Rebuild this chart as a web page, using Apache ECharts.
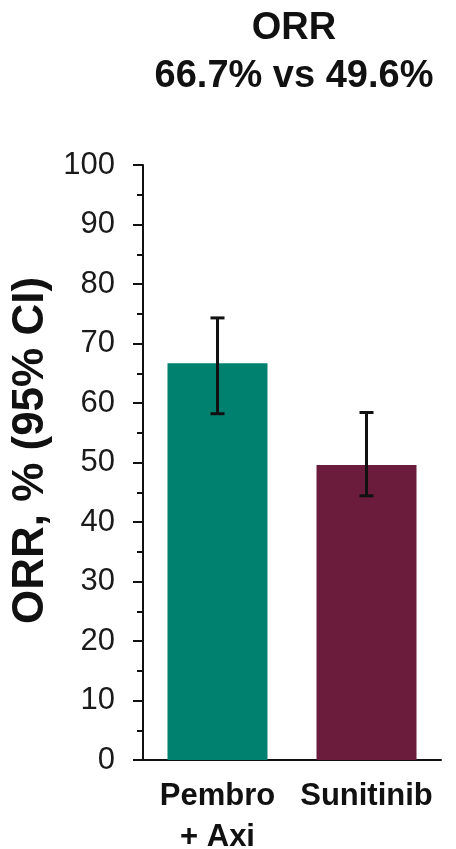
<!DOCTYPE html>
<html>
<head>
<meta charset="utf-8">
<script src="https://cdn.jsdelivr.net/npm/echarts@6/dist/echarts.min.js"></script>
<style>
html,body{margin:0;padding:0;background:#fff;}
#main{width:456px;height:849px;}
</style>
</head>
<body>
<div id="main"></div>
<script>
// data
var categories = ['Pembro\n+ Axi', 'Sunitinib'];
var orr = [66.7, 49.6];
var ciLow = [58.2, 44.4];
var ciHigh = [74.3, 58.4];
var yTicks = [0, 10, 20, 30, 40, 50, 60, 70, 80, 90, 100];

var barColors = ['#00806F', '#6B1C3C'];
var font = 'Liberation Sans, Arial, sans-serif';

var chart = echarts.init(document.getElementById('main'));

var errData = [];
for (var i = 0; i < categories.length; i++) {
	errData.push([i, ciLow[i], ciHigh[i]]);
}

option = {
	backgroundColor: '#fff',
	animation: false,
	title: {
		text: 'ORR\n66.7% vs 49.6%',
		left: 289,
		top: 0,
		textAlign: 'center',
		textStyle: {
			fontFamily: font,
			fontWeight: 'bold',
			fontSize: 38,
			lineHeight: 48,
			color: '#111'
		}
	},
	grid: {
		left: 143,
		right: 15,
		top: 165,
		bottom: 89,
		outerBoundsMode: 'none'
	},
	xAxis: {
		type: 'category',
		data: categories,
		axisLine: {lineStyle: {color: '#111', width: 2}},
		axisTick: {show: false},
		axisLabel: {
			interval: 0,
			fontFamily: font,
			fontWeight: 'bold',
			fontSize: 31,
			lineHeight: 41,
			color: '#111',
			margin: 16,
			align: 'center'
		}
	},
	yAxis: {
		type: 'value',
		min: yTicks[0],
		max: yTicks[yTicks.length - 1],
		interval: 10,
		name: 'ORR, % (95% CI)',
		nameLocation: 'middle',
		nameRotate: 90,
		nameGap: 72,
		nameTextStyle: {
			fontFamily: font,
			fontWeight: 'bold',
			fontSize: 44,
			color: '#111',
			padding: [0, 0, 0, 24]
		},
		axisLine: {show: true, lineStyle: {color: '#111', width: 2}},
		axisTick: {show: true, inside: false, length: 10, lineStyle: {color: '#111', width: 2}},
		minorTick: {show: true, splitNumber: 2, length: 6, lineStyle: {color: '#111', width: 2}},
		splitLine: {show: false},
		axisLabel: {
			fontFamily: font,
			fontSize: 31,
			color: '#1a1a1a',
			margin: 28
		}
	},
	series: [{
		type: 'bar',
		data: orr.map(function(v, i) {
			return {value: v, itemStyle: {color: barColors[i]}};
		}),
		barWidth: 100
	}, {
		type: 'custom',
		data: errData,
		z: 10,
		renderItem: function(params, api) {
			var x = api.value(0);
			var lo = api.coord([x, api.value(1)]);
			var hi = api.coord([x, api.value(2)]);
			var hw = 7;
			var st = {stroke: '#111', lineWidth: 3};
			return {
				type: 'group',
				children: [
					{type: 'line', shape: {x1: lo[0], y1: lo[1], x2: hi[0], y2: hi[1]}, style: st},
					{type: 'line', shape: {x1: lo[0] - hw, y1: lo[1], x2: lo[0] + hw, y2: lo[1]}, style: st},
					{type: 'line', shape: {x1: hi[0] - hw, y1: hi[1], x2: hi[0] + hw, y2: hi[1]}, style: st}
				]
			};
		}
	}]
};

chart.setOption(option);
</script>
</body>
</html>
